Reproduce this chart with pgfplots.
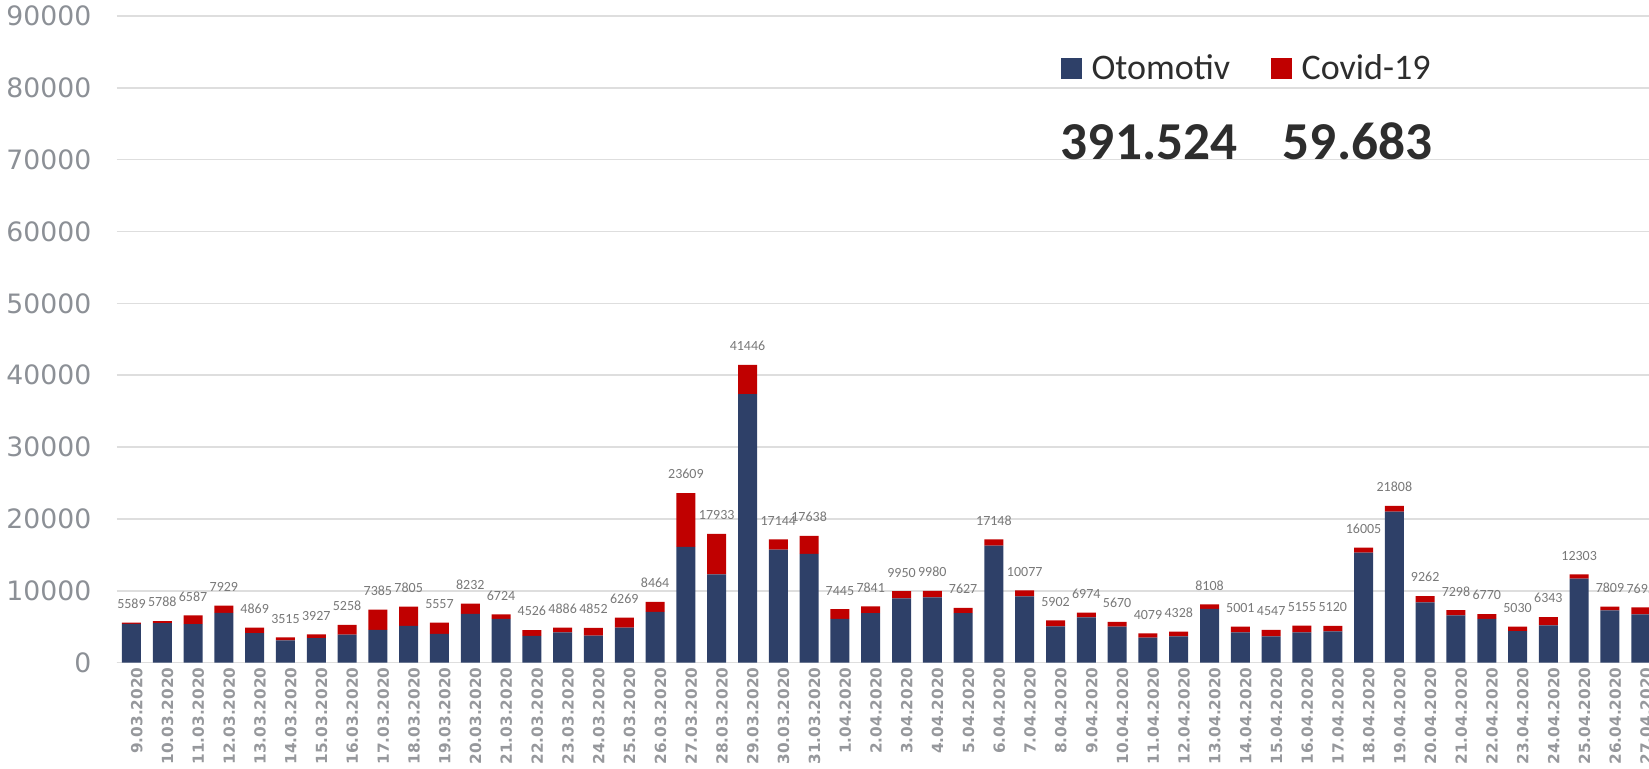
\documentclass[border=0pt]{standalone}
\usepackage{pgfplots}
\pgfplotsset{compat=1.18}
\usepackage{pgfplotstable}
\usepackage{fontspec}
\setmainfont{Carlito}
\newfontfamily\carlito{Carlito}
\newfontfamily\dejavu{DejaVu Sans}
\definecolor{oto}{RGB}{46,64,104}
\definecolor{cov}{RGB}{192,0,0}
\definecolor{ticky}{RGB}{140,144,150}
\definecolor{tickx}{RGB}{150,152,156}
\definecolor{lbl}{RGB}{120,120,120}
\definecolor{gridc}{RGB}{222,222,222}
\definecolor{legtext}{RGB}{45,45,45}

\pgfplotstableread{
x date oto red tot
0 9.03.2020 5390 199 5589
1 10.03.2020 5510 278 5788
2 11.03.2020 5350 1237 6587
3 12.03.2020 6940 989 7929
4 13.03.2020 4120 749 4869
5 14.03.2020 3090 425 3515
6 15.03.2020 3410 517 3927
7 16.03.2020 3900 1358 5258
8 17.03.2020 4550 2835 7385
9 18.03.2020 5130 2675 7805
10 19.03.2020 4000 1557 5557
11 20.03.2020 6800 1432 8232
12 21.03.2020 6110 614 6724
13 22.03.2020 3720 806 4526
14 23.03.2020 4200 686 4886
15 24.03.2020 3750 1102 4852
16 25.03.2020 4880 1389 6269
17 26.03.2020 7070 1394 8464
18 27.03.2020 16130 7479 23609
19 28.03.2020 12270 5663 17933
20 29.03.2020 37360 4086 41446
21 30.03.2020 15740 1404 17144
22 31.03.2020 15140 2498 17638
23 1.04.2020 6100 1345 7445
24 2.04.2020 6900 941 7841
25 3.04.2020 8950 1000 9950
26 4.04.2020 9070 910 9980
27 5.04.2020 6900 727 7627
28 6.04.2020 16300 848 17148
29 7.04.2020 9210 867 10077
30 8.04.2020 5050 852 5902
31 9.04.2020 6300 674 6974
32 10.04.2020 5000 670 5670
33 11.04.2020 3470 609 4079
34 12.04.2020 3660 668 4328
35 13.04.2020 7500 608 8108
36 14.04.2020 4210 791 5001
37 15.04.2020 3660 887 4547
38 16.04.2020 4210 945 5155
39 17.04.2020 4350 770 5120
40 18.04.2020 15320 685 16005
41 19.04.2020 21020 788 21808
42 20.04.2020 8380 882 9262
43 21.04.2020 6570 728 7298
44 22.04.2020 6110 660 6770
45 23.04.2020 4400 630 5030
46 24.04.2020 5190 1153 6343
47 25.04.2020 11710 593 12303
48 26.04.2020 7270 539 7809
49 27.04.2020 6710 985 7695
}\data

\begin{document}
\begin{tikzpicture}
\begin{axis}[
  at={(0,0)}, anchor=south west,
  scale only axis, width=1150pt, height=485.1pt,
  xmin=-0.48, xmax=49.3, ymin=0, ymax=90000,
  enlargelimits=false,
  ybar stacked, bar width=14.25pt,
  xtick=data, xticklabels from table={\data}{date},
  ytick={0,10000,...,90000},
  scaled y ticks=false,
  /pgf/number format/assume math mode=true,
  /pgf/number format/1000 sep={},
  yticklabel style={/pgf/number format/fixed, font=\dejavu\fontsize{20}{24}\selectfont, text=ticky, xshift=-15.5pt},
  xticklabel style={rotate=90, anchor=east, font=\dejavu\bfseries\fontsize{11.5}{13}\selectfont, text=tickx, yshift=-4pt},
  axis x line*=bottom, axis y line*=left,
  y axis line style={draw=none},
  x axis line style={draw=gridc, line width=1.2pt},
  major tick length=0pt,
  ymajorgrids, grid style={draw=gridc, line width=1.2pt},
]
\addplot[fill=oto, draw=none] table[x=x, y=oto]{\data};
\addplot[fill=cov, draw=none] table[x=x, y=red]{\data};
\end{axis}
% total labels on an overlaid axis with identical geometry
\begin{axis}[
  at={(0,0)}, anchor=south west,
  scale only axis, width=1150pt, height=485.1pt,
  xmin=-0.48, xmax=49.3, ymin=0, ymax=90000,
  enlargelimits=false, axis lines=none, clip=false,
  /pgf/number format/assume math mode=true,
  /pgf/number format/1000 sep={},
]
\addplot[only marks, mark=none, point meta=explicit,
  nodes near coords,
  nodes near coords style={font=\carlito\fontsize{10.5}{12}\selectfont, text=lbl, anchor=south, yshift=7pt}]
  table[x=x, y=tot, meta=tot]{\data};
\end{axis}
% legend and totals
\fill[oto] (708.2pt,437.7pt) rectangle (723.75pt,453.2pt);
\node[anchor=base west, inner sep=0pt, text=legtext, font=\carlito\fontsize{27}{32}\selectfont] at (731pt,437.5pt) {Otomotiv};
\fill[cov] (865.7pt,437.7pt) rectangle (881.25pt,453.2pt);
\node[anchor=base west, inner sep=0pt, text=legtext, font=\carlito\fontsize{27}{32}\selectfont] at (888.5pt,437.5pt) {Covid-19};
\node[anchor=base west, inner sep=0pt, text=legtext, font=\carlito\bfseries\fontsize{40}{46}\selectfont] at (708pt,377.5pt) {391.524};
\node[anchor=base west, inner sep=0pt, text=legtext, font=\carlito\bfseries\fontsize{40}{46}\selectfont] at (874.5pt,377.5pt) {59.683};
\pgfresetboundingbox
\useasboundingbox (-87.5pt,-79pt) rectangle (1149.25pt,497pt);
\end{tikzpicture}
\end{document}
